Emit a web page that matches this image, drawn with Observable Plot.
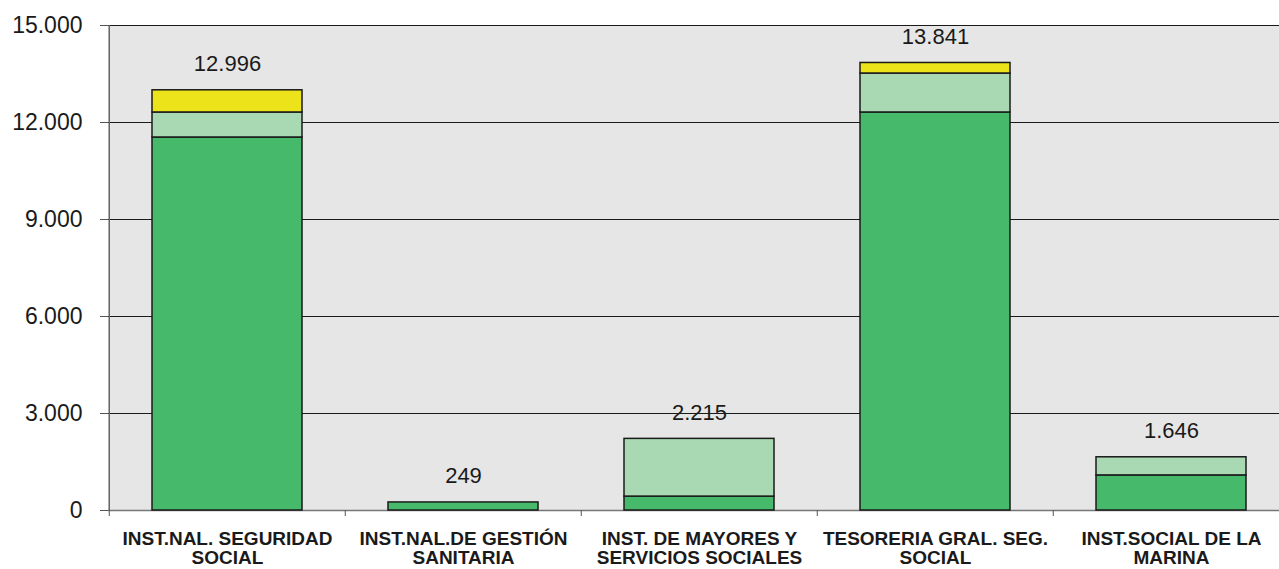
<!DOCTYPE html>
<html><head><meta charset="utf-8">
<script src="https://cdn.jsdelivr.net/npm/d3@7"></script>
<script src="https://cdn.jsdelivr.net/npm/@observablehq/plot@0.6"></script>
<style>html,body{margin:0;padding:0;background:#fff;overflow:hidden}</style>
</head><body><div id="chart"></div>
<script>
const categories = ["INST.NAL. SEGURIDAD SOCIAL","INST.NAL.DE GESTIÓN SANITARIA","INST. DE MAYORES Y SERVICIOS SOCIALES","TESORERIA GRAL. SEG. SOCIAL","INST.SOCIAL DE LA MARINA"];
const categoryLabels = ["INST.NAL. SEGURIDAD\nSOCIAL","INST.NAL.DE GESTIÓN\nSANITARIA","INST. DE MAYORES Y\nSERVICIOS SOCIALES","TESORERIA GRAL. SEG.\nSOCIAL","INST.SOCIAL DE LA\nMARINA"];
const series = ["Serie 1","Serie 2","Serie 3"];
const serie1 = [11536, 249, 430, 12310, 1085];
const serie2 = [774, 0, 1785, 1205, 561];
const serie3 = [686, 0, 0, 326, 0];
const totals = [12996, 249, 2215, 13841, 1646];
const yTicks = [0, 3000, 6000, 9000, 12000, 15000];
const colors = ["#47b96b", "#a8d9b2", "#ece31b"];

const fmt = d3.formatLocale({decimal: ",", thousands: ".", grouping: [3], currency: ["", "€"]}).format(",d");
const seriesValues = [serie1, serie2, serie3];
const rows = [];
series.forEach((s, si) => {
  categories.forEach((c, ci) => {
    const v = seriesValues[si][ci];
    if (v > 0) rows.push({category: c, series: s, value: v});
  });
});
const totalRows = categories.map((c, i) => ({category: c, total: totals[i]}));
const x0 = 108, x1 = 1290.5;
const step = (x1 - x0) / categories.length;

const chart = Plot.plot({
  width: 1279, height: 569,
  marginTop: 25, marginBottom: 59, marginLeft: 108, marginRight: 0,
  style: {fontFamily: "'Liberation Sans', Arial, sans-serif", background: "#fff", color: "#1a1a1a"},
  x: {domain: categories, range: [x0, x1], paddingInner: 0.366, paddingOuter: 0.183},
  y: {domain: [0, 15000]},
  color: {domain: series, range: colors},
  marks: [
    Plot.frame({fill: "#e6e6e6", stroke: null}),
    Plot.ruleY(yTicks.filter(d => d > 0), {stroke: "#1a1a1a", strokeWidth: 1}),
    Plot.ruleY([0], {stroke: "#777", strokeWidth: 1.5}),
    Plot.ruleX([categories[0]], {dx: -step / 2, stroke: "#666", strokeWidth: 1.5}),
    Plot.axisY({ticks: yTicks, tickFormat: fmt, tickSize: 8, tickPadding: 18, fontSize: 23, stroke: "#555", label: null}),
    Plot.axisX({tickSize: 6, tickFormat: () => "", dx: -step / 2, stroke: "#555", label: null}),
    Plot.barY(rows, {x: "category", y: "value", fill: "series", stroke: "#1a1a1a", strokeWidth: 1.5}),
    Plot.text(totalRows, {x: "category", y: "total", text: d => fmt(d.total), dy: -26, fontSize: 22, fill: "#1a1a1a"}),
    Plot.text(categories, {x: d => d, text: (d, i) => categoryLabels[i], frameAnchor: "bottom", dy: 21, lineAnchor: "top", fontWeight: "bold", fontSize: 19, lineHeight: 1.0, fill: "#1a1a1a"})
  ]
});
document.getElementById("chart").appendChild(chart);
</script>
</body></html>
